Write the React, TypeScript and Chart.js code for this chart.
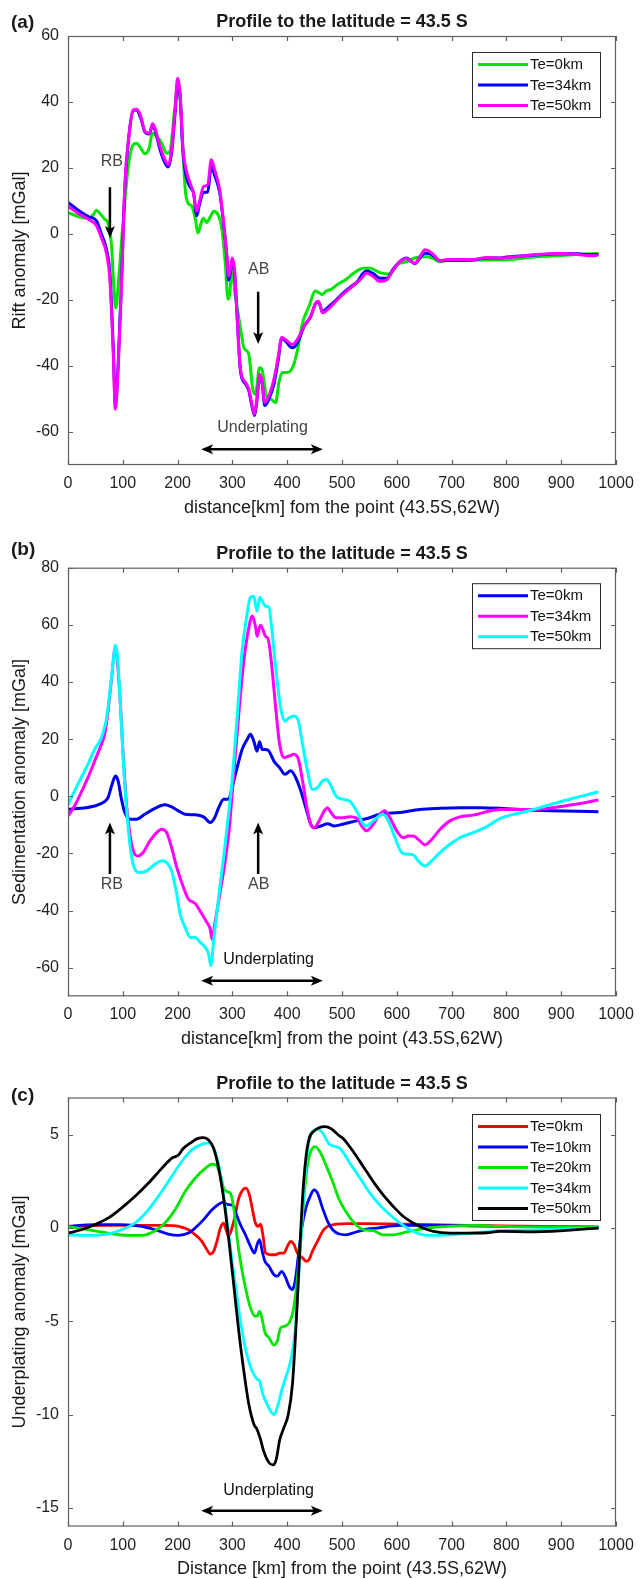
import React, { useEffect, useRef } from 'react';
import { Chart, registerables } from 'chart.js';

Chart.register(...registerables);

const FONT = '"Liberation Sans", Arial, Helvetica, sans-serif';

type Pt = [number, number];

// ---------- Panel (a): Rift anomaly ----------
const riftTe0: Pt[] = [
  [0, 6.5], [18, 5.3], [37, 4.8], [46, 5.8], [52, 7.2], [58, 6.3], [67, 4.5], [73, 3.3], [79, -2.7], [84, -16.8],
  [87, -22.4], [91, -16.8], [97.5, -2.7], [104, 10.4], [110, 20.5], [117, 26.5], [125, 27.5], [133, 26], [140, 24.3],
  [148, 26], [154, 30.5], [162, 29.5], [171, 27.5], [180, 24.5], [186, 25], [194, 36.6], [200, 43.6], [205, 40.6],
  [209.5, 26.5], [214, 13.4], [219, 9.4], [226, 8.4], [232, 4.8], [237, 0.3], [243, 3.3], [247, 4.8], [253, 3.5],
  [260, 5.3], [266, 6.9], [274, 5.8], [281, 1.3], [287, -8.8], [292, -19.8], [295, -18.3], [299, -10.8],
  [305.5, -18.8], [315, -28.9], [321, -34.5], [330, -36.5], [337, -47], [342, -48.6], [349.5, -40.5], [354, -41],
  [362, -49], [370, -50], [379, -51.1], [385, -45], [391, -42], [400, -42], [411, -40], [419, -35], [428, -26.9],
  [440, -21.9], [451, -17.3], [458, -17.8], [464, -18.3], [471, -17.3], [480, -16.8], [492, -15.3], [507, -13.8],
  [521, -11.9], [539, -10.4], [551, -10.4], [569, -11.7], [588, -12.1], [600, -9.4], [618, -8.4], [636, -7.1],
  [655, -6.9], [666, -7.4], [679, -8.4], [697, -7.9], [740, -7.9], [788, -7.9], [850, -7], [900, -6.5], [968, -5.9],
];

const riftTe34: Pt[] = [
  [0, 9.6], [18, 7.3], [37, 5.3], [52, 4.0], [61, 0], [70, -4.5], [76.5, -12], [82.5, -34], [86.5, -52], [91.4, -40],
  [97.5, -15], [103.7, 14], [111, 29.5], [119, 37.4], [125, 37.6], [133, 35], [140, 31], [148, 30.3], [154.4, 32.8],
  [158.7, 31.5], [168, 25.5], [177, 21.5], [183, 20.3], [189, 24.5], [195.4, 36.5], [200, 46], [204.6, 41.5],
  [209.5, 25.5], [215.6, 17.5], [223, 14.2], [229, 12.5], [235, 5.5], [239.4, 8.5], [247.4, 12.6], [255, 12.8],
  [261.5, 20.5], [267.6, 17.8], [276.8, 12.5], [284, 3], [290, -7], [293, -14], [296.3, -12], [299.4, -8],
  [303.7, -11], [308.6, -25], [314.7, -41.5], [324, -45.5], [330, -47.5], [336, -52.5], [340.4, -55], [344, -51.5],
  [350, -43], [354.4, -45.5], [359, -52], [366.7, -50], [375.8, -45.5], [383.8, -38], [390, -31.5], [397, -32.5],
  [409.5, -34.5], [418.6, -33], [431, -28], [443, -25], [452, -21], [457, -20.6], [464.5, -23.5], [473.7, -22.3],
  [486, -20.5], [498, -18.5], [513.5, -16.3], [528.7, -14.3], [538, -12], [545, -11.2], [557, -12], [569, -13.4],
  [581.6, -13.4], [593.6, -10.6], [605.8, -8.3], [618, -7.3], [627, -8.4], [633, -9], [642, -7.3], [651.5, -5.8],
  [660.6, -6], [669.7, -7], [678.8, -8.1], [691, -8], [715, -8], [739.6, -7.9], [764, -7.3], [788, -7.3],
  [800, -7], [850, -6.4], [900, -6], [930, -6], [950, -6.3], [968, -6.2],
];

const riftTe50: Pt[] = [
  [0, 8.4], [18, 6.3], [37, 4.5], [52, 2.5], [61, -1.2], [70, -5.7], [76.5, -13.8], [82.5, -36], [86.5, -53.1],
  [91.4, -41], [97.5, -15.8], [103.7, 14.4], [111, 29.5], [119, 37.6], [125, 37.8], [133, 35.6], [140, 31.2],
  [148, 30.5], [154.4, 33.4], [158.7, 32], [168, 26.5], [177, 22.5], [183, 21], [189, 25.5], [195.4, 37.6],
  [200, 47.2], [204.6, 42.6], [209.5, 26.5], [215.6, 19.4], [223, 15.4], [229, 12.4], [235, 6.9], [239.4, 9.4],
  [247.4, 14.4], [255, 14.9], [261.5, 22.5], [267.6, 19.4], [276.8, 13.4], [284, 3.3], [290, -6.8], [293, -12.8],
  [296.3, -10.8], [299.4, -7.3], [303.7, -10.8], [308.6, -24.9], [314.7, -41], [324, -45], [330, -47], [336, -52],
  [340.4, -54.6], [344, -51], [350, -42.5], [354.4, -45], [359, -51], [366.7, -49], [375.8, -44], [383.8, -37],
  [390, -31.4], [397, -32], [409.5, -33.5], [418.6, -32], [431, -27.9], [443, -24.9], [452, -20.9], [457, -20.4],
  [464.5, -23.9], [473.7, -22.9], [486, -20.9], [498, -18.8], [514.6, -16.5], [533, -13.9], [545, -11.9],
  [557, -12.9], [569, -14.4], [581.6, -13.9], [593.6, -10.9], [605.8, -8.4], [618, -7.4], [627, -8.4], [633, -8.9],
  [642, -6.9], [651.5, -4.8], [660.6, -5.4], [669.7, -6.7], [678.8, -8.2], [691, -7.7], [715, -7.7], [739.6, -7.7],
  [764, -7.1], [788, -7.3], [850, -6.3], [900, -5.9], [930, -6.2], [950, -6.6], [968, -6.4],
];

// ---------- Panel (b): Sedimentation anomaly ----------
const sedTe0: Pt[] = [
  [0, -4.5], [24, -4.2], [48.6, -3.4], [64, -2.2], [73, -0.5], [80.4, 4.2], [86.5, 7.1], [91.4, 5.4], [97.5, -1],
  [103.7, -5.7], [113, -8], [125, -8], [140, -6.3], [158.7, -4.2], [177, -3], [189, -3.7], [201.5, -5.1],
  [213.8, -6.3], [232, -6.5], [247.4, -7.2], [259.6, -9.2], [267.6, -7.5], [275, -4], [284, -1], [293, -1],
  [299.4, 3], [308.6, 10], [317.7, 16.4], [326.9, 19.9], [333, 21.7], [339, 19.3], [345, 15.8], [349.5, 19.1],
  [354.4, 16.4], [360.6, 16.4], [366.7, 15.8], [375.8, 12.3], [386.2, 10], [396, 7.7], [406.4, 8.9], [415.6, 6.5],
  [424.8, 1.9], [434, -4], [443, -9.8], [449, -11], [461.4, -10.4], [473.7, -9.6], [486, -10.4], [501, -9.8],
  [525.7, -8.6], [547.7, -7.7], [569, -6.3], [605.8, -5.7], [642, -4.6], [678.8, -4.2], [715, -4], [752, -4],
  [788, -4.2], [850, -4.9], [968, -5.4],
];

const sedTe34: Pt[] = [
  [0, -6.9], [12, -3.4], [24, 1.3], [36.4, 6.5], [48.6, 12.3], [61, 18.2], [67, 21.7], [73, 29.8], [79, 40.3],
  [86.5, 52], [94.5, 35.7], [100.6, 14.7], [106.7, -2.8], [113, -13.3], [119, -19.1], [128, -20.9], [137, -19.7],
  [149.5, -15.6], [161.8, -12.7], [171, -11.5], [180, -12.7], [189, -17.9], [198.5, -24.9], [210.7, -31.9],
  [219.8, -36], [232, -37.5], [244.3, -41.2], [253.5, -44.2], [259.6, -46.5], [262.7, -50], [268.8, -43.6],
  [278, -33.1], [287, -22.6], [294.5, -11], [302.4, 7.7], [311.6, 28.7], [320.8, 47.3], [330, 59], [336, 63],
  [342, 59.5], [345, 56], [351, 59.9], [355.4, 58.4], [360.6, 56], [365.5, 54.9], [371.6, 46.1], [379, 31],
  [386.2, 18.2], [394, 13.5], [403.4, 14.1], [412.6, 14.7], [420.5, 12.9], [428, 5.4], [437, -5.1], [443, -9.8],
  [449, -11], [458.4, -8.6], [467.6, -5.1], [473.7, -4], [480, -5.7], [489, -7.5], [501, -7.5], [514.6, -7.2],
  [527, -7.7], [536, -10.4], [545, -12.1], [557, -9.8], [569, -6.3], [578, -5.1], [587.6, -7.5], [599.8, -12.1],
  [612, -14.5], [621, -13.9], [630, -13.9], [642, -15.6], [651.5, -17], [663.7, -15.1], [678.8, -11.6],
  [697, -8.6], [715, -7.2], [739.6, -6.6], [764, -5.4], [788, -4.6], [850, -4.6], [926, -2.8], [968, -1.3],
];

const sedTe50: Pt[] = [
  [0, -3], [12, 1.9], [24, 6.5], [36.4, 11.2], [48.6, 16.4], [61, 20.5], [70, 26.9], [76, 35.7], [82, 46.1],
  [86.5, 52.9], [90, 49.6], [94.5, 35.7], [100.6, 13.5], [106.7, -4], [113, -16.8], [119, -23.8], [131, -26.7],
  [143.4, -26.1], [158.7, -23.8], [171, -22.6], [180, -23.2], [189, -26.1], [198.5, -34.3], [204.6, -41.2],
  [213.8, -45.9], [223, -49.4], [232, -49.4], [241.3, -51.1], [250.5, -52.9], [256.6, -55.2], [260.8, -59.3],
  [265.7, -50.6], [274.9, -35.4], [284, -21.4], [293, -6.3], [299.4, 5.4], [308.6, 27.5], [317.7, 50.8],
  [325.7, 62.4], [333, 69.7], [339, 70], [345, 64.8], [350, 69.7], [354.4, 68.3], [360.6, 66.5], [366.7, 66.2],
  [371.6, 59], [379, 45], [388, 31], [396, 26.3], [403.4, 27.5], [412.6, 28.1], [420.5, 26.3], [428, 18.2],
  [437, 8.9], [446, 2.4], [455.3, 3], [464.5, 5.4], [472, 5.9], [480, 3.6], [489, 0.1], [501, -1], [514.6, -1.8],
  [529.8, -6.3], [539, -9.8], [545, -10.4], [557, -8.6], [575, -6.3], [584.5, -8.6], [596.7, -14.5], [609, -19.7],
  [621, -20.3], [630, -20.5], [639, -22.6], [651.5, -24.4], [663.7, -22.6], [678.8, -19.7], [697, -16.8],
  [715, -14.5], [739.6, -12.7], [764, -10.6], [788, -7.8], [820, -6], [850, -4.6], [900, -1.8], [930, -0.3],
  [968, 1.6],
];

// ---------- Panel (c): Underplating anomaly ----------
const upTe0: Pt[] = [
  [0, 0.09], [67, 0.14], [128, 0.14], [177, 0.14], [201.5, 0.09], [220, -0.09], [232, -0.36], [244.3, -0.71],
  [253.5, -1.16], [259.6, -1.39], [265.7, -1.25], [271.8, -0.71], [278, 0], [284, 0.27], [288.4, -0.09],
  [293, -0.45], [298.2, -0.09], [304, 0.53], [311.6, 1.6], [319, 2.05], [325, 2.14], [331, 1.78], [337.3, 0.89],
  [342, 0.27], [347, 0.09], [351.4, 0.21], [355.6, -0.36], [360.6, -1.34], [369.7, -1.43], [379, -1.43],
  [386, -1.34], [394, -1.34], [400.3, -0.98], [406.4, -0.71], [412.6, -0.89], [418.6, -1.34], [428, -1.6],
  [435, -1.78], [440, -1.69], [446, -1.25], [455.3, -0.71], [464.5, -0.18], [473.7, 0.09], [489, 0.21],
  [513.5, 0.24], [547.7, 0.24], [606, 0.21], [666, 0.18], [788, 0.12], [968, 0.05],
];

const upTe10: Pt[] = [
  [0, 0.09], [48.6, 0.18], [97.5, 0.18], [134.4, 0.09], [159, -0.09], [183, -0.32], [201.5, -0.39], [220, -0.27],
  [232, 0], [247.4, 0.45], [262.7, 0.98], [275, 1.28], [284, 1.39], [290, 1.28], [296.3, 1.25], [302.4, 1.16],
  [308.6, 0.62], [314.7, 0.18], [323.8, -0.36], [333, -0.98], [340.4, -1.34], [345, -0.89], [349.5, -0.62],
  [354.4, -1.25], [359.4, -1.78], [366.7, -2.05], [375.8, -2.5], [382, -2.58], [390, -2.32], [397.3, -2.67],
  [403.4, -3.12], [409.5, -3.3], [414.4, -2.85], [420.5, -1.43], [426.6, 0], [434, 1.07], [443, 1.78],
  [449, 2.05], [455.3, 1.87], [464.5, 1.07], [473.7, 0.36], [483, -0.09], [495, -0.32], [507, -0.36],
  [525.7, -0.21], [547.7, -0.05], [563, 0], [606, 0.14], [666, 0.14], [727, 0.12], [788, 0.09], [968, 0.05],
];

const upTe20: Pt[] = [
  [0, 0.09], [36.4, -0.09], [73, -0.27], [110, -0.39], [134.4, -0.39], [159, -0.14], [177, 0.27], [195.4, 0.98],
  [213.8, 1.96], [232, 2.67], [250.5, 3.2], [262.7, 3.42], [270, 3.39], [278, 2.85], [284, 2.14], [290, 1.96],
  [296.3, 1.87], [302.4, 1.07], [308.6, -0.53], [314.7, -1.78], [323.8, -3.2], [333, -4.28], [341, -4.72],
  [345, -4.72], [349.5, -4.46], [354.4, -4.9], [359.4, -5.6], [366.7, -5.88], [375.8, -6.27], [382, -6.06],
  [388, -5.35], [396, -5.26], [403.4, -5.08], [410.8, -4.46], [418.6, -2.67], [424.8, -0.53], [431, 1.78],
  [437, 3.39], [443, 4.1], [451, 4.37], [459.6, 4.1], [470.6, 3.39], [484, 2.4], [495, 1.52], [507, 0.89],
  [522.6, 0.27], [539, -0.09], [557, -0.14], [575, -0.36], [593.6, -0.36], [618, -0.21], [654.6, 0],
  [697, 0.09], [739.6, 0.14], [788, 0.09], [968, 0.05],
];

const upTe34: Pt[] = [
  [0, -0.36], [36.4, -0.39], [73, -0.32], [97.5, -0.09], [122, 0.27], [146.5, 0.98], [171, 1.96], [189, 2.76],
  [207.6, 3.57], [226, 4.19], [244.3, 4.49], [256.6, 4.55], [265.7, 4.28], [275, 3.39], [284, 1.78], [292, 0],
  [299.4, -1.78], [308.6, -3.74], [317.7, -5.53], [327, -6.86], [336, -7.66], [345, -8.1], [349.5, -8.2],
  [355.4, -8.9], [363.4, -9.45], [371.6, -9.9], [375.8, -10], [382, -9.6], [390, -8.7], [397.3, -8],
  [406.4, -7.1], [414.4, -5.53], [420.5, -2.85], [426.6, 0.18], [432.7, 2.85], [438.8, 4.46], [446, 5.17],
  [455.3, 5.3], [464.5, 5.1], [476.8, 4.5], [496, 4.27], [514.6, 3.47], [533, 2.67], [551, 1.87], [569, 1.24],
  [587.6, 0.71], [606, 0.27], [624, -0.09], [642, -0.32], [666.6, -0.39], [697, -0.36], [739.6, -0.27],
  [788, -0.14], [850, -0.1], [968, 0],
];

const upTe50: Pt[] = [
  [0, -0.27], [24, -0.09], [48.6, 0.18], [73, 0.53], [97.5, 1.07], [122, 1.69], [146.5, 2.4], [171, 3.2],
  [189, 3.74], [201.5, 3.92], [210.7, 4.28], [223, 4.55], [235, 4.78], [247.4, 4.85], [256.6, 4.72], [265.7, 4.28],
  [275, 3.2], [284, 1.6], [293, -0.53], [302.4, -3.03], [311.6, -5.53], [320.8, -7.66], [330, -9.45], [339, -10.5],
  [345, -10.8], [351, -11.3], [357.5, -12], [366.7, -12.57], [374, -12.7], [380, -12.4], [386, -11.4],
  [394, -10.7], [402, -10], [409.5, -8.4], [415.6, -5.53], [421.7, -1.96], [428, 1.6], [434, 3.74], [440, 4.8],
  [449, 5.2], [458, 5.38], [469.3, 5.44], [480, 5.33], [495, 4.95], [502, 4.8], [520.7, 4.09], [539, 3.29],
  [557, 2.49], [575, 1.78], [593.6, 1.16], [612, 0.62], [630, 0.27], [648, 0], [666.6, -0.18], [697, -0.27],
  [727.6, -0.27], [764, -0.25], [788, -0.18], [850, -0.2], [968, 0],
];

// ---------- tick / axis settings ----------
const xTicksStep = 100;
const riftYTicks = { min: -70, max: 60, step: 20 };
const sedYTicks = { min: -70, max: 80, step: 20 };
const upYTicks = { min: -16, max: 7, step: 5 };

const TITLE = 'Profile to the latitude = 43.5 S';

type Series = { label: string; color: string; data: Pt[] };

function drawArrowHead(ctx: CanvasRenderingContext2D, x1: number, y1: number, x2: number, y2: number) {
  const ang = Math.atan2(y2 - y1, x2 - x1);
  const L = 12, W = 5, N = 3;
  ctx.save();
  ctx.translate(x2, y2);
  ctx.rotate(ang);
  ctx.beginPath();
  ctx.moveTo(0, 0);
  ctx.lineTo(-L, -W);
  ctx.lineTo(-L + N, 0);
  ctx.lineTo(-L, W);
  ctx.closePath();
  ctx.fill();
  ctx.restore();
}

const decoPlugin = {
  id: 'deco',
  afterDraw(chart: any, _args: any, o: any) {
    const { ctx, chartArea: ca, scales } = chart;
    const xs = scales.x, ys = scales.y;
    ctx.save();
    // frame and inward ticks
    ctx.strokeStyle = '#5f5f5f';
    ctx.lineWidth = 1.2;
    ctx.strokeRect(ca.left + 0.5, ca.top + 0.5, ca.right - ca.left - 1, ca.bottom - ca.top - 1);
    ctx.beginPath();
    xs.ticks.forEach((t: any) => {
      const px = Math.round(xs.getPixelForValue(t.value)) + 0.5;
      ctx.moveTo(px, ca.bottom); ctx.lineTo(px, ca.bottom - 5);
      ctx.moveTo(px, ca.top); ctx.lineTo(px, ca.top + 5);
    });
    ys.ticks.forEach((t: any) => {
      const py = Math.round(ys.getPixelForValue(t.value)) + 0.5;
      ctx.moveTo(ca.left, py); ctx.lineTo(ca.left + 5, py);
      ctx.moveTo(ca.right, py); ctx.lineTo(ca.right - 5, py);
    });
    ctx.stroke();

    // title & panel label
    ctx.fillStyle = '#1a1a1a';
    ctx.font = `bold 18px ${FONT}`;
    ctx.textAlign = 'center';
    ctx.textBaseline = 'alphabetic';
    ctx.fillText(TITLE, (ca.left + ca.right) / 2, ca.top - 9);
    ctx.font = `bold 19px ${FONT}`;
    ctx.textAlign = 'left';
    ctx.fillText(o.label, 11, ca.top + o.labelDy);

    // axis titles
    ctx.font = `18px ${FONT}`;
    ctx.textAlign = 'center';
    ctx.textBaseline = 'middle';
    ctx.fillText(o.xTitle, (ca.left + ca.right) / 2, ca.bottom + 43);
    ctx.save();
    ctx.translate(20, (ca.top + ca.bottom) / 2);
    ctx.rotate(-Math.PI / 2);
    ctx.fillText(o.yTitle, 0, 0);
    ctx.restore();

    // legend
    const series: Series[] = o.series;
    const bx = ca.right - 144, by = ca.top + o.legendDy;
    const bw = 128, bh = 24 + (series.length - 1) * 20.5;
    ctx.fillStyle = '#ffffff';
    ctx.fillRect(bx, by, bw, bh);
    ctx.strokeStyle = '#2a2a2a';
    ctx.lineWidth = 1;
    ctx.strokeRect(bx + 0.5, by + 0.5, bw, bh);
    ctx.font = `15px ${FONT}`;
    ctx.textAlign = 'left';
    ctx.textBaseline = 'middle';
    series.forEach((s, i) => {
      const yy = by + 12.5 + i * 20.5;
      ctx.strokeStyle = s.color;
      ctx.lineWidth = 3;
      ctx.beginPath();
      ctx.moveTo(bx + 6, yy);
      ctx.lineTo(bx + 56, yy);
      ctx.stroke();
      ctx.fillStyle = '#111111';
      ctx.fillText(s.label, bx + 58, yy + 0.5);
    });

    // annotations
    const ann = o.notes;
    ctx.font = `16px ${FONT}`;
    ctx.textAlign = 'center';
    ctx.textBaseline = 'middle';
    ann.texts.forEach((t: any) => {
      ctx.fillStyle = t.color || ann.color;
      ctx.fillText(t.text, xs.getPixelForValue(t.x), ys.getPixelForValue(t.y));
    });
    ctx.fillStyle = '#000000';
    ctx.strokeStyle = '#000000';
    ctx.lineWidth = 2.5;
    ann.arrows.forEach((a: any) => {
      const x = xs.getPixelForValue(a.x);
      const y1 = ys.getPixelForValue(a.from), y2 = ys.getPixelForValue(a.to);
      const dir = Math.sign(y2 - y1);
      ctx.beginPath();
      ctx.moveTo(x, y1);
      ctx.lineTo(x, y2 - dir * 8);
      ctx.stroke();
      drawArrowHead(ctx, x, y1, x, y2);
    });
    const sp = ann.span;
    const x1 = xs.getPixelForValue(sp.from), x2 = xs.getPixelForValue(sp.to);
    const yy = ys.getPixelForValue(sp.y);
    ctx.beginPath();
    ctx.moveTo(x1 + 8, yy);
    ctx.lineTo(x2 - 8, yy);
    ctx.stroke();
    drawArrowHead(ctx, x1, yy, x2, yy);
    drawArrowHead(ctx, x2, yy, x1, yy);
    ctx.restore();
  },
};

type PanelCfg = {
  height: number;
  padTop: number;
  padBottom: number;
  lineWidth: number;
  series: Series[];
  yt: { min: number; max: number; step: number };
  label: string;
  labelDy: number;
  legendDy: number;
  xTitle: string;
  yTitle: string;
  notes: any;
};

function Panel({ cfg, top }: { cfg: PanelCfg; top: number }) {
  const ref = useRef<HTMLCanvasElement | null>(null);
  useEffect(() => {
    if (!ref.current) return;
    const n = cfg.series.length;
    const chart = new Chart(ref.current, {
      type: 'line',
      data: {
        datasets: cfg.series.map((s, i) => ({
          label: s.label,
          data: s.data.map(([x, y]) => ({ x, y })),
          borderColor: s.color,
          backgroundColor: s.color,
          borderWidth: cfg.lineWidth,
          pointRadius: 0,
          fill: false,
          cubicInterpolationMode: 'monotone' as const,
          order: n - i,
        })),
      },
      options: {
        responsive: false,
        animation: false,
        devicePixelRatio: 1,
        layout: { padding: { left: 0, right: 28, top: cfg.padTop, bottom: cfg.padBottom } },
        plugins: {
          legend: { display: false },
          title: { display: false },
          tooltip: { enabled: false },
          deco: {
            label: cfg.label,
            labelDy: cfg.labelDy,
            legendDy: cfg.legendDy,
            xTitle: cfg.xTitle,
            yTitle: cfg.yTitle,
            series: cfg.series,
            notes: cfg.notes,
          },
        } as any,
        scales: {
          x: {
            type: 'linear',
            min: 0,
            max: 1000,
            ticks: {
              stepSize: xTicksStep,
              padding: 9,
              autoSkip: false,
              maxRotation: 0,
              color: '#1f1f1f',
              font: { family: FONT, size: 16 },
              callback: (v: any) => String(v),
            },
            grid: { display: false, drawTicks: false },
            border: { display: false },
            afterFit: (s: any) => { s.height = 30; },
          },
          y: {
            type: 'linear',
            min: cfg.yt.min,
            max: cfg.yt.max,
            ticks: {
              stepSize: cfg.yt.step,
              padding: 9,
              autoSkip: false,
              color: '#1f1f1f',
              font: { family: FONT, size: 16 },
              callback: (v: any) => String(v),
            },
            afterBuildTicks: (s: any) => {
              s.ticks = s.ticks.filter((t: any) => Math.abs(t.value / cfg.yt.step - Math.round(t.value / cfg.yt.step)) < 1e-6);
            },
            grid: { display: false, drawTicks: false },
            border: { display: false },
            afterFit: (s: any) => { s.width = 68; },
          },
        },
      } as any,
      plugins: [decoPlugin as any],
    });
    return () => chart.destroy();
  }, [cfg]);
  return (
    <canvas
      ref={ref}
      width={644}
      height={cfg.height}
      style={{ position: 'absolute', left: 0, top, width: 644, height: cfg.height, display: 'block' }}
    />
  );
}

const panelA: PanelCfg = {
  height: 525, padTop: 36, padBottom: 30, lineWidth: 3,
  series: [
    { label: 'Te=0km', color: '#00e600', data: riftTe0 },
    { label: 'Te=34km', color: '#0000ff', data: riftTe34 },
    { label: 'Te=50km', color: '#ff00ff', data: riftTe50 },
  ],
  yt: riftYTicks, label: '(a)', labelDy: -8, legendDy: 16,
  xTitle: 'distance[km] fom the point (43.5S,62W)',
  yTitle: 'Rift anomaly [mGal]',
  notes: {
    color: '#444444',
    texts: [
      { text: 'RB', x: 80, y: 21.8 },
      { text: 'AB', x: 348, y: -10.9 },
      { text: 'Underplating', x: 355, y: -58.7 },
    ],
    arrows: [
      { x: 76.5, from: 14.2, to: -1.2 },
      { x: 347, from: -17.5, to: -33.3 },
    ],
    span: { from: 243, to: 465, y: -65.2 },
  },
};

const panelB: PanelCfg = {
  height: 527, padTop: 42.7, padBottom: 25.7, lineWidth: 3,
  series: [
    { label: 'Te=0km', color: '#0000ee', data: sedTe0 },
    { label: 'Te=34km', color: '#ff00ff', data: sedTe34 },
    { label: 'Te=50km', color: '#00ffff', data: sedTe50 },
  ],
  yt: sedYTicks, label: '(b)', labelDy: -13, legendDy: 15.5,
  xTitle: 'distance[km] from the point (43.5S,62W)',
  yTitle: 'Sedimentation anomaly [mGal]',
  notes: {
    color: '#444444',
    texts: [
      { text: 'RB', x: 80, y: -30.8 },
      { text: 'AB', x: 348, y: -30.8 },
      { text: 'Underplating', x: 366, y: -57, color: '#111111' },
    ],
    arrows: [
      { x: 76.5, from: -27.2, to: -9.2 },
      { x: 347, from: -27.2, to: -9.2 },
    ],
    span: { from: 243, to: 465, y: -64.6 },
  },
};

const panelC: PanelCfg = {
  height: 527, padTop: 45.5, padBottom: 22.5, lineWidth: 2.8,
  series: [
    { label: 'Te=0km', color: '#ff0000', data: upTe0 },
    { label: 'Te=10km', color: '#0000ff', data: upTe10 },
    { label: 'Te=20km', color: '#00e600', data: upTe20 },
    { label: 'Te=34km', color: '#00ffff', data: upTe34 },
    { label: 'Te=50km', color: '#000000', data: upTe50 },
  ],
  yt: upYTicks, label: '(c)', labelDy: 3, legendDy: 16.5,
  xTitle: 'Distance [km] from the point (43.5S,62W)',
  yTitle: 'Underplating anomaly [mGal]',
  notes: {
    color: '#111111',
    texts: [{ text: 'Underplating', x: 366, y: -14.1 }],
    arrows: [],
    span: { from: 243, to: 465, y: -15.16 },
  },
};

export default function App() {
  return (
    <div style={{ position: 'absolute', left: 0, top: 0, width: 644, height: 1579, background: '#ffffff', overflow: 'hidden' }}>
      <Panel cfg={panelA} top={0} />
      <Panel cfg={panelB} top={525} />
      <Panel cfg={panelC} top={1052} />
    </div>
  );
}
